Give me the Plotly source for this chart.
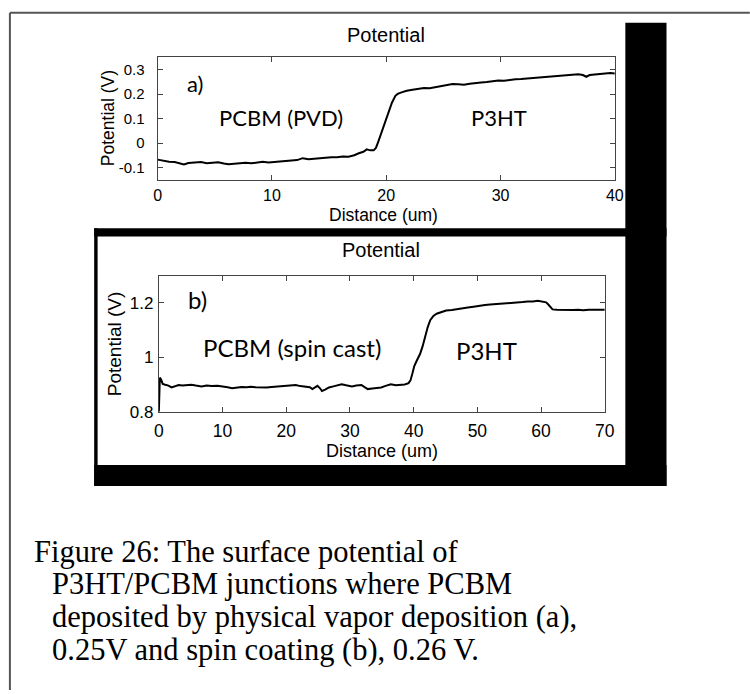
import plotly.graph_objects as go

# ---- data -------------------------------------------------------------
# (a) PCBM by physical vapour deposition / P3HT
a_dist = [0, 0.2, 0.6, 1.0, 1.5, 2.0, 2.3, 2.7, 3.2, 3.8, 4.3, 4.8, 5.3, 5.8, 6.2,
          6.7, 7.2, 7.7, 8.2, 8.7, 9.2, 9.7, 10.2, 10.7, 11.2, 11.7, 12.2, 12.7,
          13.2, 13.7, 14.2, 14.7, 15.2, 15.7, 16.2, 16.7, 17.2, 17.6, 18.0, 18.3,
          18.6, 18.9, 19.1, 19.3, 19.6, 19.9, 20.2, 20.5, 20.8, 21.0, 21.4, 21.8,
          22.3, 22.8, 23.3, 23.8, 24.3, 24.8, 25.3, 25.8, 26.3, 26.8, 27.3, 27.8,
          28.3, 28.8, 29.3, 29.8, 30.3, 30.8, 31.3, 31.8, 32.3, 32.8, 33.3, 33.8,
          34.3, 34.8, 35.3, 35.8, 36.3, 36.8, 37.2, 37.5, 37.8, 38.2, 38.7, 39.2,
          39.6, 40.0]
a_pot = [-0.068, -0.070, -0.076, -0.077, -0.078, -0.084, -0.088, -0.082, -0.080,
         -0.078, -0.083, -0.081, -0.079, -0.084, -0.087, -0.085, -0.083, -0.081,
         -0.083, -0.079, -0.077, -0.080, -0.078, -0.076, -0.074, -0.072, -0.070,
         -0.062, -0.066, -0.064, -0.061, -0.060, -0.058, -0.058, -0.055, -0.056,
         -0.050, -0.042, -0.036, -0.026, -0.030, -0.030, -0.020, 0.005, 0.045,
         0.085, 0.125, 0.165, 0.193, 0.201, 0.208, 0.214, 0.218, 0.222, 0.225,
         0.224, 0.229, 0.231, 0.236, 0.241, 0.240, 0.238, 0.242, 0.246, 0.248,
         0.250, 0.253, 0.256, 0.255, 0.259, 0.261, 0.262, 0.264, 0.266, 0.267,
         0.270, 0.273, 0.272, 0.275, 0.278, 0.279, 0.281, 0.278, 0.271, 0.278,
         0.280, 0.282, 0.283, 0.286, 0.284]

# (b) spin-cast PCBM / P3HT
b_dist = [0.0, 0.05, 0.15, 0.35, 0.6, 1.0, 1.5, 2.0, 2.5, 3.1, 3.7, 4.3, 5.1, 5.8,
          6.7, 7.5, 8.3, 9.2, 10.0, 10.8, 11.5, 12.2, 13.0, 13.8, 14.4, 15.2, 16.0,
          16.9, 17.7, 18.5, 19.5, 20.3, 21.0, 21.5, 22.2, 23.1, 23.7, 24.1, 24.5,
          24.9, 25.3, 25.6, 26.1, 26.7, 27.4, 28.0, 28.7, 29.4, 30.3, 31.0, 31.8,
          32.3, 32.8, 33.5, 34.2, 34.9, 35.6, 36.4, 37.2, 38.0, 38.6, 39.2, 39.5,
          39.8, 40.1, 40.5, 41.0, 41.4, 41.8, 42.2, 42.6, 43.1, 43.6, 44.3, 45.1,
          46.0, 47.0, 47.7, 48.5, 49.4, 50.3, 51.2, 52.0, 52.8, 53.7, 54.6, 55.4,
          56.3, 57.1, 57.9, 58.7, 59.5, 60.2, 60.8, 61.1, 61.4, 61.8, 62.5, 63.3,
          64.1, 65.0, 65.8, 66.6, 67.5, 68.3, 69.2, 70.0]
b_pot = [0.800, 0.900, 0.925, 0.918, 0.902, 0.899, 0.896, 0.889, 0.893, 0.898,
         0.896, 0.897, 0.899, 0.896, 0.893, 0.896, 0.894, 0.895, 0.893, 0.890,
         0.886, 0.889, 0.891, 0.890, 0.892, 0.890, 0.889, 0.889, 0.891, 0.892,
         0.893, 0.895, 0.897, 0.898, 0.894, 0.893, 0.890, 0.883, 0.890, 0.895,
         0.886, 0.876, 0.881, 0.889, 0.893, 0.896, 0.901, 0.897, 0.893, 0.896,
         0.898, 0.890, 0.883, 0.885, 0.887, 0.889, 0.895, 0.901, 0.897, 0.898,
         0.900, 0.905, 0.915, 0.940, 0.968, 0.988, 1.012, 1.040, 1.076, 1.110,
         1.136, 1.152, 1.160, 1.166, 1.172, 1.174, 1.177, 1.178, 1.183, 1.186,
         1.190, 1.192, 1.194, 1.195, 1.197, 1.198, 1.199, 1.201, 1.203, 1.205,
         1.205, 1.208, 1.206, 1.202, 1.195, 1.185, 1.176, 1.175, 1.174, 1.175,
         1.174, 1.175, 1.173, 1.175, 1.174, 1.175, 1.175]

a_xticks = [0, 10, 20, 30, 40]
a_yticks = [-0.1, 0, 0.1, 0.2, 0.3]
a_ytext = ["-0.1", "0", "0.1", "0.2", "0.3"]
b_xticks = [0, 10, 20, 30, 40, 50, 60, 70]
b_yticks = [0.8, 1.0, 1.2]
b_ytext = ["0.8", "1", "1.2"]

caption = [
    "Figure 26: The surface potential of",
    "P3HT/PCBM junctions where PCBM",
    "deposited by physical vapor deposition (a),",
    "0.25V and spin coating (b), 0.26 V.",
]

# ---- page geometry (pixels) --------------------------------------------
W, H = 750, 694


def fx(x):
    return x / W


def fy(y):
    return 1 - y / H


SANS = "Liberation Sans, Arial, sans-serif"
LABEL = "Lato, Open Sans, sans-serif"
SERIF = "Liberation Serif, Times New Roman, serif"
AX = "#444444"

fig = go.Figure()
fig.add_trace(go.Scatter(x=a_dist, y=a_pot, mode="lines",
                         line=dict(color="black", width=2),
                         xaxis="x", yaxis="y", showlegend=False))
fig.add_trace(go.Scatter(x=b_dist, y=b_pot, mode="lines",
                         line=dict(color="black", width=2),
                         xaxis="x2", yaxis="y2", showlegend=False))

common = dict(showgrid=False, zeroline=False, showline=True, linecolor=AX,
              linewidth=1, mirror="ticks", ticks="inside", ticklen=5,
              tickcolor=AX, tickwidth=1)

fig.update_layout(
    width=W, height=H, autosize=False,
    margin=dict(l=0, r=0, t=0, b=0),
    paper_bgcolor="white", plot_bgcolor="white",
    xaxis=dict(domain=[fx(155.7), fx(622.3)], range=[0, 40], anchor="y",
               tickvals=a_xticks, ticktext=[str(v) for v in a_xticks],
               tickfont=dict(family=SANS, size=16, color="black"),
               ticklabelstandoff=1, **common),
    yaxis=dict(domain=[fy(182.3), fy(58.3)], range=[-0.15, 0.35], anchor="x",
               tickvals=a_yticks, ticktext=a_ytext,
               tickfont=dict(family=SANS, size=15, color="black"),
               ticklabelstandoff=9, **common),
    xaxis2=dict(domain=[fx(157), fx(612)], range=[0, 70], anchor="y2",
                tickvals=b_xticks, ticktext=[str(v) for v in b_xticks],
                tickfont=dict(family=SANS, size=17.5, color="black"),
                ticklabelstandoff=3, **common),
    yaxis2=dict(domain=[fy(417.7), fy(279.7)], range=[0.8, 1.3], anchor="x2",
                tickvals=b_yticks, ticktext=b_ytext,
                tickfont=dict(family=SANS, size=17, color="black"),
                ticklabelstandoff=1, **common),
)

shapes = []
# thin grey page frame (left and top edges)
shapes.append(dict(type="line", xref="paper", yref="paper",
                   x0=fx(5), x1=fx(5), y0=fy(13), y1=fy(700),
                   line=dict(color="#555555", width=2)))
shapes.append(dict(type="line", xref="paper", yref="paper",
                   x0=fx(5), x1=fx(760), y0=fy(13), y1=fy(13),
                   line=dict(color="#555555", width=2)))


def black_box(x0, y0, x1, y1):
    return dict(type="rect", xref="paper", yref="paper", layer="above",
                x0=fx(x0), x1=fx(x1), y0=fy(y1), y1=fy(y0),
                fillcolor="black", line=dict(width=0))


shapes.append(black_box(633, 23, 675, 493))    # right strip
shapes.append(black_box(91, 231.5, 675, 240))  # top of panel (b) frame
shapes.append(black_box(91, 231.5, 94.5, 493))  # left of panel (b) frame
shapes.append(black_box(91, 471.7, 675, 493))  # bottom of panel (b) frame
fig.update_layout(shapes=shapes)

ann = []


def text(x, y, s, size, family=SANS, angle=0, xanchor="center", yanchor="middle"):
    ann.append(dict(x=fx(x), y=fy(y), xref="paper", yref="paper", text=s,
                    showarrow=False, textangle=angle, xanchor=xanchor,
                    yanchor=yanchor,
                    font=dict(family=family, size=size, color="black")))


# panel (a)
text(388.5, 36, "Potential", 20)
text(386.7, 218.5, "Distance (um)", 17.5)
text(105, 120, "Potential (V)", 17.5, angle=-90)
text(194, 85, "a)", 22, family=LABEL)
text(281.5, 119, "PCBM (PVD)", 22, family=LABEL)
text(504, 119, "P3HT", 22, family=LABEL)

# panel (b)
text(384, 254, "Potential", 20)
text(384.5, 458, "Distance (um)", 18)
text(112.5, 349, "Potential (V)", 19, angle=-90)
text(196, 303.5, "b)", 24, family=LABEL)
text(292.5, 353, "PCBM (spin cast)", 24, family=LABEL)
text(491.5, 356, "P3HT", 24, family=LABEL)

# caption
cap_y = [560, 593, 626, 659]
cap_x = [28, 46, 46, 46]
for s, x, y in zip(caption, cap_x, cap_y):
    text(x, y, s, 30.5, family=SERIF, xanchor="left")

fig.update_layout(annotations=ann)
fig.write_html("out.html")
